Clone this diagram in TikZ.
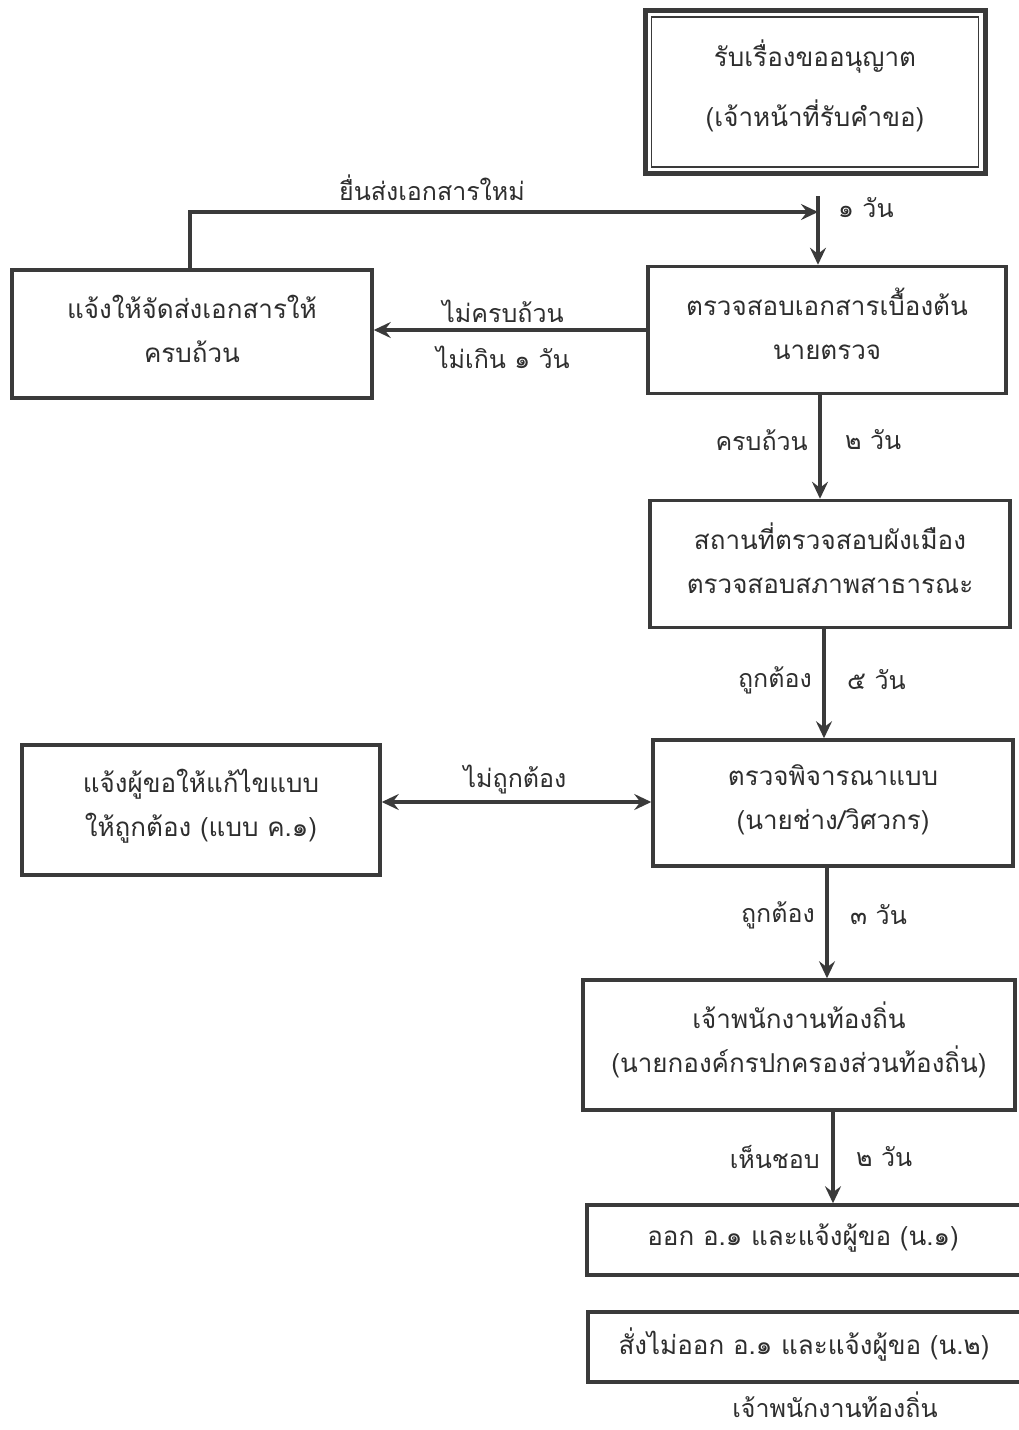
\documentclass[tikz,border=0pt]{standalone}
\usepackage{fontspec}
\setmainfont[Script=Thai]{Loma}
\usetikzlibrary{arrows.meta}
\definecolor{ink}{HTML}{3A3A3A}
\definecolor{txt}{HTML}{2E2E2E}
\begin{document}
\begin{tikzpicture}[x=1pt,y=-1pt,
  box/.style={draw=ink,line width=3.5pt,minimum width=#1,inner sep=0pt},
  box/.default=360pt,
  btxt/.style={align=center,inner sep=0pt,font=\fontsize{26}{44}\selectfont,text=txt},
  lbl/.style={font=\fontsize{25}{44}\selectfont,text=txt,inner sep=0pt,align=center},
  arr/.style={draw=ink,line width=3.5pt,-{Stealth[length=17pt,width=16pt,inset=6pt]}},
  darr/.style={draw=ink,line width=3.5pt,{Stealth[length=17pt,width=16pt,inset=6pt]}-{Stealth[length=17pt,width=16pt,inset=6pt]}},
  ln/.style={draw=ink,line width=3.5pt}]
\useasboundingbox[fill=white] (0,0) rectangle (1019,1430);

% top double box
\node[box=340pt,minimum height=163pt,line width=5pt] (top) at (815,92) {};
\draw[ink,line width=1.8pt] ([shift={(9pt,-9pt)}]top.north west) rectangle ([shift={(-9pt,9pt)}]top.south east);
\node[btxt,font=\fontsize{26}{60}\selectfont] (topt) at ([yshift=6pt]top.center) {รับเรื่องขออนุญาต\\(เจ้าหน้าที่รับคำขอ)};

% main column
\node[box=358pt,minimum height=127pt] (chk) at (827,330) {};
\node[btxt] (chkt) at ([yshift=6pt]chk.center) {ตรวจสอบเอกสารเบื้องต้น\\นายตรวจ};
\node[box=360pt,minimum height=127pt] (site) at (830,564) {};
\node[btxt] (sitet) at ([yshift=6pt]site.center) {สถานที่ตรวจสอบผังเมือง\\ตรวจสอบสภาพสาธารณะ};
\node[box=360pt,minimum height=126pt] (plan) at (833,803) {};
\node[btxt] (plant) at ([yshift=3pt]plan.center) {ตรวจพิจารณาแบบ\\(นายช่าง/วิศวกร)};
\node[box=432pt,minimum height=130pt] (off) at (799,1045) {};
\node[btxt] (offt) at ([yshift=5pt]off.center) {เจ้าพนักงานท้องถิ่น\\(นายกองค์กรปกครองส่วนท้องถิ่น)};
\node[box=438pt,minimum height=70pt] (iss) at (806,1240) {};
\node[btxt] (isst) at ([xshift=-3pt,yshift=2pt]iss.center) {ออก อ.๑ และแจ้งผู้ขอ (น.๑)};
\node[box=438pt,minimum height=70pt] (rej) at (807,1347) {};
\node[btxt] (rejt) at ([xshift=-3pt,yshift=2pt]rej.center) {สั่งไม่ออก อ.๑ และแจ้งผู้ขอ (น.๒)};
\node[lbl] (offl) at (835,1405) {เจ้าพนักงานท้องถิ่น};

% left boxes
\node[box=360pt,minimum height=128pt] (docs) at (192,334) {};
\node[btxt] (docst) at ([yshift=5pt]docs.center) {แจ้งให้จัดส่งเอกสารให้\\ครบถ้วน};
\node[box=358pt,minimum height=130pt] (fix) at (201,810) {};
\node[btxt] (fixt) at ([yshift=4pt]fix.center) {แจ้งผู้ขอให้แก้ไขแบบ\\ให้ถูกต้อง (แบบ ค.๑)};

% connectors
\coordinate (j) at (818,212);
\draw[arr] ([yshift=-20pt]top.south -| j) -- (j |- chk.north);
\draw[arr] (docs.north -| 190,0) |- (j);
\node[lbl,anchor=west] (d1) at (838,208) {๑ วัน};
\node[lbl] (resub) at (432,188) {ยื่นส่งเอกสารใหม่};

\draw[arr] (chk.west |- 0,330) -- (docs.east |- 0,330);
\node[lbl] (inc) at (503,311) {ไม่ครบถ้วน};
\node[lbl] (inc2) at (503,357) {ไม่เกิน ๑ วัน};

\draw[arr] (820,0 |- chk.south) -- (820,0 |- site.north);
\node[lbl,anchor=east] (cmp) at (808,440) {ครบถ้วน};
\node[lbl,anchor=west] (d2) at (845,440) {๒ วัน};

\draw[arr] (824,0 |- site.south) -- (824,0 |- plan.north);
\node[lbl,anchor=east] (ok1) at (812,680) {ถูกต้อง};
\node[lbl,anchor=west] (d5) at (847,680) {๕ วัน};

\draw[darr] (fix.east |- 0,802) -- (plan.west |- 0,802);
\node[lbl] (nok) at (515,780) {ไม่ถูกต้อง};

\draw[arr] (827,0 |- plan.south) -- (827,0 |- off.north);
\node[lbl,anchor=east] (ok2) at (815,915) {ถูกต้อง};
\node[lbl,anchor=west] (d3) at (850,915) {๓ วัน};

\draw[arr] (833,0 |- off.south) -- (833,0 |- iss.north);
\node[lbl,anchor=east] (appr) at (820,1157) {เห็นชอบ};
\node[lbl,anchor=west] (d2b) at (856,1157) {๒ วัน};
\end{tikzpicture}
\end{document}
